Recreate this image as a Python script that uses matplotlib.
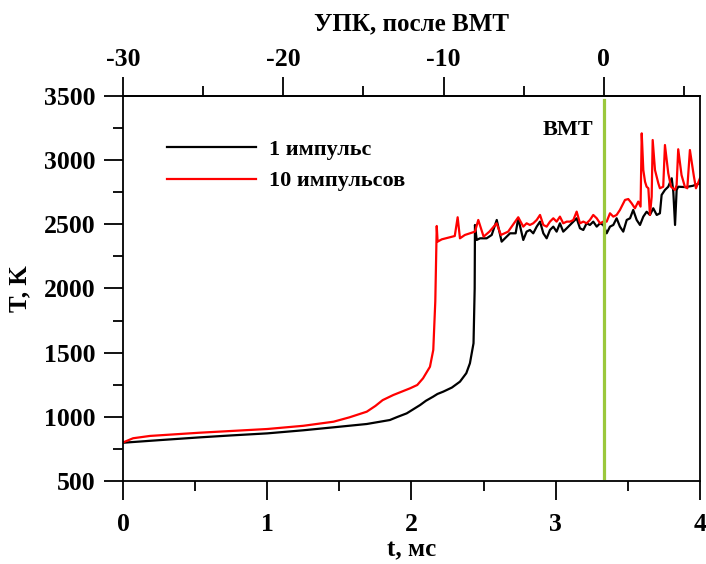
import matplotlib.pyplot as plt
from matplotlib.ticker import MultipleLocator

plt.rcParams['font.family'] = ['Liberation Serif', 'DejaVu Serif']
plt.rcParams['font.weight'] = 'bold'
plt.rcParams['axes.unicode_minus'] = False

# 1 impulse
t_one = [0.00, 0.25, 0.534, 0.75, 1.00, 1.25, 1.458, 1.69, 1.85, 1.90, 1.967, 2.06, 2.10, 2.15,
         2.18, 2.22, 2.28, 2.336, 2.38, 2.405, 2.43, 2.438, 2.440, 2.452, 2.475, 2.521, 2.556,
         2.591, 2.625, 2.683, 2.722,
         2.740, 2.775, 2.798, 2.821, 2.844, 2.868, 2.891, 2.914, 2.937, 2.960, 2.983, 3.006,
         3.029, 3.052, 3.076, 3.099, 3.122, 3.145, 3.168, 3.191, 3.214, 3.237, 3.260, 3.284,
         3.307, 3.330, 3.353, 3.376, 3.399, 3.422, 3.445, 3.468, 3.492, 3.515, 3.537, 3.561,
         3.584, 3.607, 3.630, 3.653, 3.676, 3.700, 3.722, 3.734, 3.757, 3.780, 3.804, 3.815,
         3.827, 3.838, 3.849, 3.90, 3.95, 4.00]
T_one = [798, 818, 840, 855, 871, 895, 918, 944, 975, 998, 1027, 1092, 1125, 1157,
         1178, 1196, 1228, 1274, 1340, 1417, 1573, 2000, 2495, 2378, 2391, 2391, 2417,
         2534, 2365, 2430, 2430,
         2547, 2378, 2443, 2456, 2430, 2482, 2521, 2430, 2391, 2456, 2482, 2443,
         2508, 2443, 2469, 2495, 2521, 2547, 2469, 2456, 2508, 2495, 2521, 2482,
         2508, 2495, 2430, 2482, 2495, 2547, 2482, 2443, 2534, 2547, 2612, 2534,
         2495, 2560, 2598, 2573, 2625, 2573, 2586, 2729, 2768, 2793, 2859, 2754,
         2495, 2768, 2793, 2790, 2800, 2820]

# 10 impulses
t_ten = [0.00, 0.07, 0.187, 0.53, 1.00, 1.25, 1.46, 1.57, 1.69, 1.75, 1.80, 1.874, 1.99, 2.04,
         2.08, 2.128, 2.151, 2.165, 2.175, 2.181, 2.21, 2.30, 2.32, 2.336, 2.37, 2.44, 2.463,
         2.50, 2.54,
         2.59, 2.62, 2.67, 2.74, 2.775, 2.798, 2.821, 2.844, 2.868, 2.891, 2.914, 2.937,
         2.960, 2.983, 3.006, 3.029, 3.052, 3.076, 3.099, 3.122, 3.145, 3.168, 3.191, 3.214,
         3.237, 3.260, 3.284, 3.307, 3.330, 3.353, 3.376, 3.399, 3.422, 3.445, 3.480, 3.503,
         3.526, 3.549, 3.572, 3.588, 3.596, 3.607, 3.619, 3.630, 3.642, 3.653, 3.665, 3.672,
         3.688, 3.711, 3.722, 3.745, 3.757, 3.780, 3.799, 3.826, 3.838, 3.849, 3.872, 3.895,
         3.912, 3.930, 3.958, 3.972, 4.00]
T_ten = [800, 833, 851, 876, 905, 930, 962, 996, 1040, 1085, 1130, 1170, 1222, 1248,
         1300, 1390, 1521, 1900, 2487, 2365, 2383, 2409, 2555, 2391, 2417, 2443, 2534,
         2404, 2443,
         2508, 2417, 2443, 2555, 2482, 2508, 2495, 2508, 2534, 2573, 2495, 2482,
         2521, 2547, 2521, 2560, 2508, 2521, 2521, 2534, 2599, 2508, 2521, 2508,
         2534, 2573, 2547, 2508, 2521, 2521, 2586, 2560, 2573, 2612, 2690, 2697,
         2664, 2625, 2677, 2638, 3209, 2923, 2832, 2793, 2781, 2573, 2715, 3157,
         2923, 2820, 2781, 2793, 3118, 2898, 2793, 2768, 2806, 3085, 2884, 2793,
         2781, 3079, 2871, 2781, 2860]

labels = ['1 импульс', '10 импульсов']
vmt_t = 10 / 3  # ВМТ, ms
deg_per_ms = 9.0
top_major = [-30, -20, -10, 0]
top_minor = [-25, -15, -5, 5]

fig = plt.figure(figsize=(7.06, 5.64), dpi=100)
ax = fig.add_axes([0.1742, 0.1472, 0.8173, 0.6826])

ax.plot(t_one, T_one, color='black', lw=1.6, label=labels[0])
ax.plot(t_ten, T_ten, color='#ff0000', lw=1.6, label=labels[1])
ax.axvline(vmt_t, ymin=0.007, ymax=0.99, color='#9bc83c', lw=2.3)
ax.text(vmt_t - 0.07, 3235, 'ВМТ', ha='right', va='center', fontsize=16, fontweight='bold')

ax.set_xlim(0, 4)
ax.set_ylim(500, 3500)
ax.xaxis.set_major_locator(MultipleLocator(1))
ax.xaxis.set_minor_locator(MultipleLocator(0.5))
ax.yaxis.set_major_locator(MultipleLocator(500))
ax.yaxis.set_minor_locator(MultipleLocator(250))
ax.tick_params(which='major', direction='out', length=14, width=1.3, labelsize=18.5, pad=6)
ax.tick_params(which='minor', direction='out', length=7, width=1.3)
ax.tick_params(axis='x', which='major', pad=9)
for s in ax.spines.values():
    s.set_linewidth(1.3)

ax.set_xlabel('t, мс', fontsize=18, fontweight='bold', labelpad=2)
ax.set_ylabel('T, K', fontsize=18, fontweight='bold', labelpad=9)

top = ax.secondary_xaxis('top', functions=(lambda t: t * deg_per_ms - 30,
                                           lambda d: (d + 30) / deg_per_ms))
top.set_xticks(top_major)
top.set_xticks(top_minor, minor=True)
top.tick_params(which='major', direction='out', length=14, width=1.3, labelsize=18.5, pad=4)
top.tick_params(which='minor', direction='out', length=7, width=1.3)
top.spines['top'].set_linewidth(1.3)
top.set_xlabel('УПК, после ВМТ', fontsize=18, fontweight='bold', labelpad=13)

leg = ax.legend(loc='upper left', bbox_to_anchor=(0.041, 0.94), frameon=False,
                fontsize=16, handlelength=4.0, handletextpad=0.6, labelspacing=0.5)

fig.savefig('out.png', dpi=100)
